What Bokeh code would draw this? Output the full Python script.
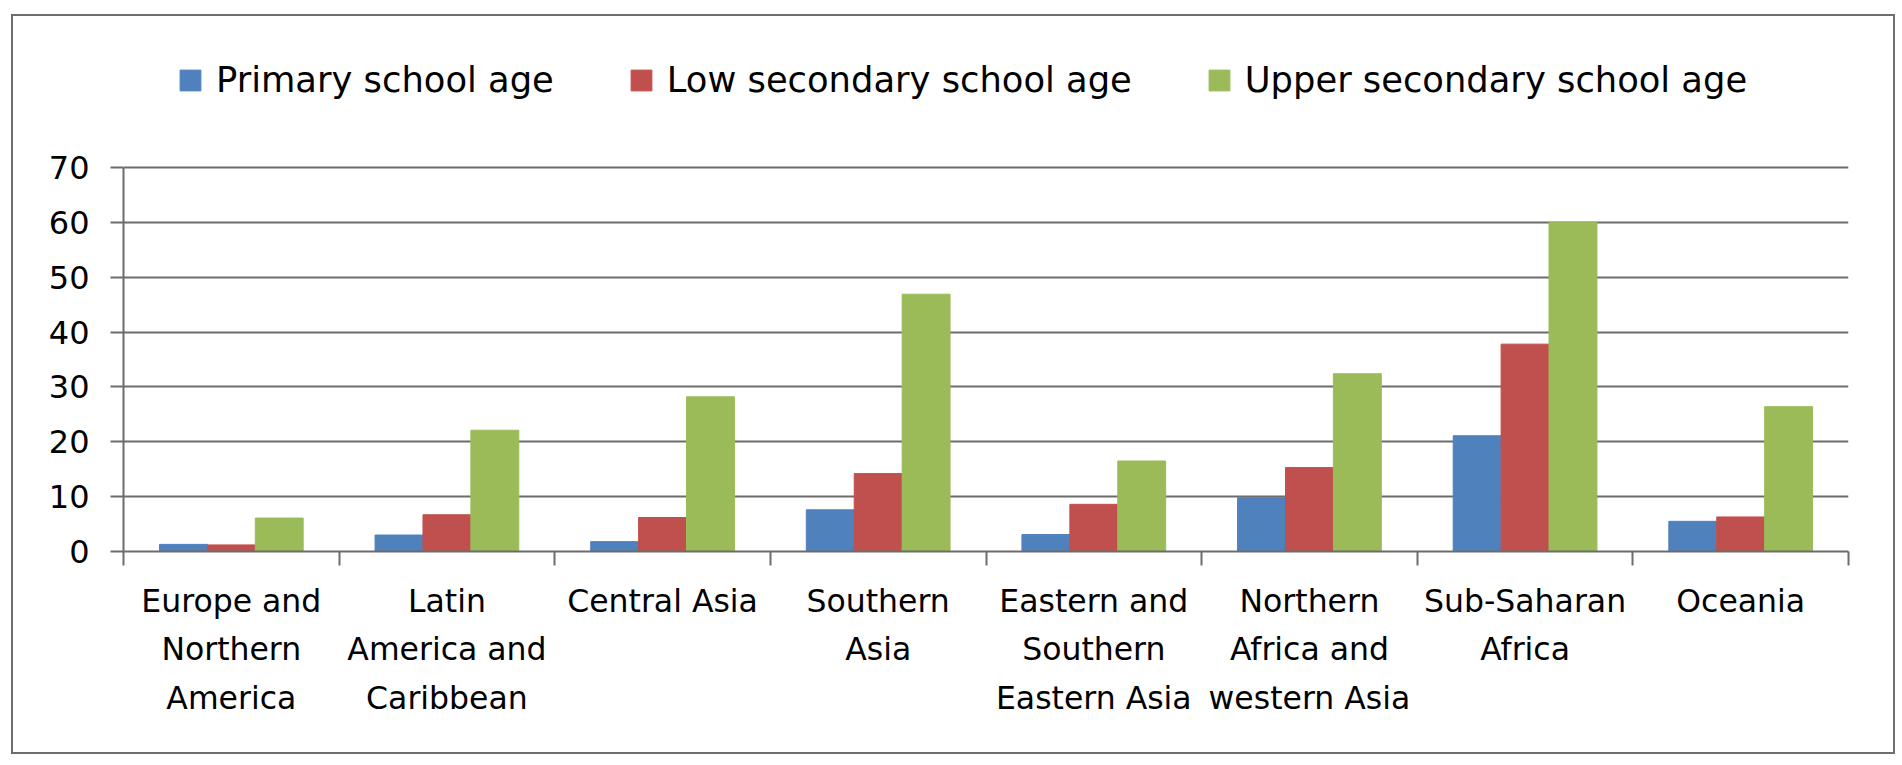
from bokeh.plotting import figure
from bokeh.models import (ColumnDataSource, FactorRange, Range1d, LinearAxis, CategoricalAxis,
                          FixedTicker, Legend, LegendItem, InlineStyleSheet)
from bokeh.transform import dodge
from bokeh.embed import file_html
from bokeh.resources import INLINE

regions = ["Europe and\nNorthern\nAmerica", "Latin\nAmerica and\nCaribbean", "Central Asia",
           "Southern\nAsia", "Eastern and\nSouthern\nEastern Asia", "Northern\nAfrica and\nwestern Asia",
           "Sub-Saharan\nAfrica", "Oceania"]
series_names = ["Primary school age", "Low secondary school age", "Upper secondary school age"]
primary = [1.3, 3.0, 1.8, 7.6, 3.1, 9.8, 21.1, 5.5]
lower = [1.2, 6.7, 6.2, 14.2, 8.6, 15.3, 37.8, 6.3]
upper = [6.1, 22.1, 28.2, 46.9, 16.5, 32.4, 60.0, 26.4]
y_ticks = [0, 10, 20, 30, 40, 50, 60, 70]

colors = ["#4F81BD", "#C0504D", "#9BBB59"]
FONT = "DejaVu Sans"
GRAY = "#6c6c6c"

src = ColumnDataSource(dict(region=regions, primary=primary, lower=lower, upper=upper))

# frame extends above the 70 line so that the legend sits inside it (axis bounded to 0..70)
p = figure(width=1900, height=763, output_backend="svg", toolbar_location=None,
           x_range=FactorRange(factors=regions, range_padding=0, factor_padding=0),
           y_range=Range1d(0, 93.15), x_axis_location=None, y_axis_location=None,
           min_border_left=123, min_border_right=52, min_border_top=40, min_border_bottom=212)
p.outline_line_color = None
p.background_fill_color = "white"
p.border_fill_color = "white"
p.stylesheets = [InlineStyleSheet(css="""
:host { position: relative; }
:host::after { content: ""; position: absolute; left: 11px; top: 14px; width: 1884px; height: 740px;
  border: 2px solid #6e6e6e; box-sizing: border-box; pointer-events: none; }
""")]

# y axis
yax = LinearAxis(ticker=FixedTicker(ticks=y_ticks, minor_ticks=[]), bounds=(0, 70))
yax.axis_line_color = GRAY
yax.axis_line_width = 2
yax.major_tick_line_color = GRAY
yax.major_tick_line_width = 2
yax.major_tick_out = 13
yax.major_tick_in = 0
yax.minor_tick_line_color = None
yax.major_label_standoff = 21
yax.major_label_text_font = FONT
yax.major_label_text_font_size = "32px"
yax.major_label_text_color = "black"
p.add_layout(yax, "left")

# x tick marks at category edges (synthetic coordinates of the factor range)
edges = list(range(len(regions) + 1))
tax = LinearAxis(ticker=FixedTicker(ticks=edges, minor_ticks=[]),
                 major_label_overrides={i: "" for i in edges})
tax.axis_line_color = GRAY
tax.axis_line_width = 2
tax.major_tick_line_color = GRAY
tax.major_tick_line_width = 2
tax.major_tick_out = 14
tax.major_tick_in = 0
tax.minor_tick_line_color = None
tax.major_label_standoff = 0
tax.major_label_text_font_size = "1px"
p.add_layout(tax, "below")

# categorical labels axis
xax = CategoricalAxis()
xax.axis_line_color = None
xax.major_tick_line_color = None
xax.minor_tick_line_color = None
xax.major_label_standoff = 11
xax.major_label_text_font = FONT
xax.major_label_text_font_size = "31.5px"
xax.major_label_text_color = "black"
xax.major_label_text_line_height = 1.36
xax.major_label_orientation = "horizontal"
p.add_layout(xax, "below")

p.xgrid.visible = False
p.ygrid.ticker = FixedTicker(ticks=y_ticks)
p.ygrid.grid_line_color = GRAY
p.ygrid.grid_line_width = 2

w = 0.2222
renderers = []
for off, col, field in zip([-w, 0, w], colors, ["primary", "lower", "upper"]):
    r = p.vbar(x=dodge("region", off, range=p.x_range), top=field, width=w, source=src,
               fill_color=col, line_color=col, line_width=1)
    renderers.append(r)

legend = Legend(items=[LegendItem(label=n, renderers=[r]) for n, r in zip(series_names, renderers)],
                orientation="horizontal", location=(54, 451))
legend.glyph_width = 26
legend.glyph_height = 26
legend.label_standoff = 13
legend.spacing = 74
legend.padding = 0
legend.margin = 0
legend.border_line_color = None
legend.background_fill_alpha = 0
legend.label_text_font = FONT
legend.label_text_font_size = "35.3px"
legend.label_text_color = "black"
p.add_layout(legend, "center")

open("out.html", "w").write(file_html(p, INLINE))
